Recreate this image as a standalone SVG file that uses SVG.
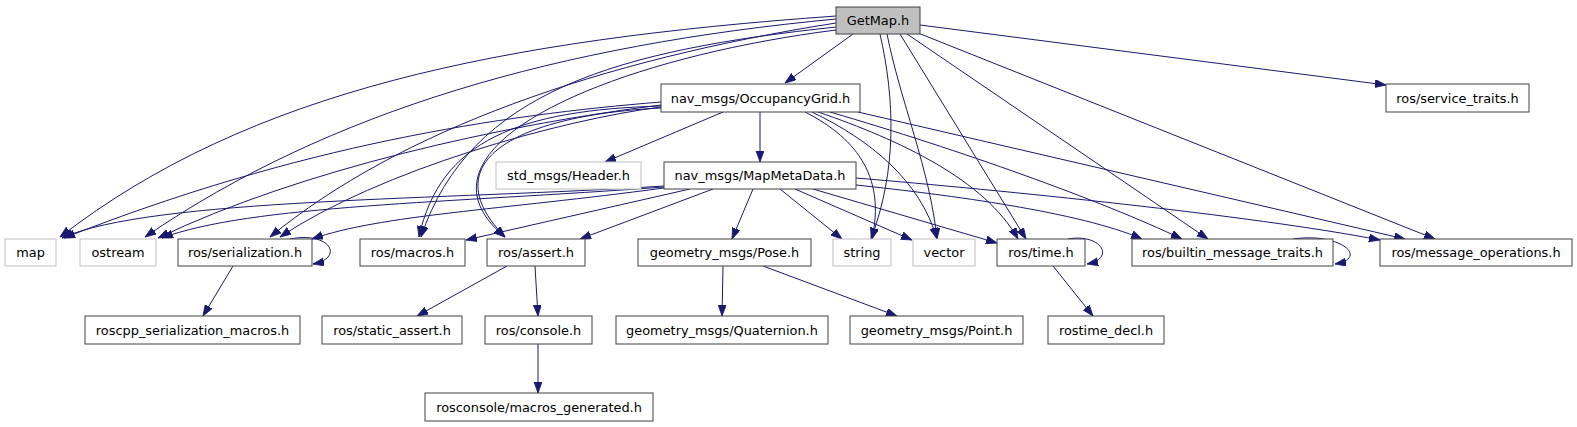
<svg xmlns="http://www.w3.org/2000/svg" width="1577" height="427" viewBox="0 0 1577 427">
<style>
.n rect{fill:#ffffff;stroke:#404040;stroke-width:1}
.n.m rect{stroke:#bfbfbf}
.n.r rect{fill:#bfbfbf}
.n text{font-family:"DejaVu Sans","Liberation Sans",sans-serif;font-size:12.9px;text-anchor:middle;fill:#000}
#edges path{fill:none;stroke:#191970;stroke-width:1;marker-end:url(#a)}
</style>
<defs>
<marker id="a" markerWidth="12" markerHeight="9" refX="11" refY="4" orient="auto" markerUnits="userSpaceOnUse"><path d="M0,0 L11,4 L0,8 z" fill="#191970" stroke="#191970" stroke-width="0.8"/></marker>
</defs>
<rect width="1577" height="427" fill="#ffffff"/>
<g id="edges">
<!-- GetMap -->
<path d="M853,34 L785,83"/>
<path d="M920,25 L1386,85"/>
<path d="M918,33 L1435,239"/>
<path d="M907,34 L1208,239"/>
<path d="M900,34 L1026,239"/>
<path d="M887,34 C900,100 930,170 937,239"/>
<path d="M880,34 C895,100 897,170 871,239"/>
<path d="M836,16 C500,40 250,90 60,237"/>
<path d="M836,19 C560,45 330,110 145,237"/>
<path d="M836,23 C600,60 400,130 270,237"/>
<path d="M836,27 C620,50 470,90 421,237"/>
<path d="M836,30 C600,60 400,150 505,237"/>
<!-- OccupancyGrid -->
<path d="M723,112 L605,162"/>
<path d="M760,112 L760,162"/>
<path d="M661,102 C500,115 300,145 64,238"/>
<path d="M661,105 C500,125 300,170 158,238"/>
<path d="M661,107 C560,120 380,170 280,237"/>
<path d="M661,106 C520,110 440,140 419,237"/>
<path d="M661,108 C520,115 430,160 505,237"/>
<path d="M805,112 C860,140 885,180 872,239"/>
<path d="M812,112 C870,140 920,180 937,239"/>
<path d="M818,112 C900,140 985,180 1018,239"/>
<path d="M830,112 C960,150 1100,200 1182,239"/>
<path d="M858,112 L1405,239"/>
<!-- MapMetaData -->
<path d="M664,186 C450,200 150,198 62,238"/>
<path d="M664,187 C450,203 250,205 162,238"/>
<path d="M664,188 C500,210 380,215 312,239"/>
<path d="M690,189 L466,240"/>
<path d="M713,189 L580,239"/>
<path d="M753,189 L732,239"/>
<path d="M780,189 L842,239"/>
<path d="M795,189 L912,240"/>
<path d="M813,189 L997,243"/>
<path d="M856,185 C950,195 1080,212 1142,239"/>
<path d="M856,178 C1000,190 1250,215 1380,240"/>
<!-- others -->
<path d="M290,239 C330,231 345,258 313,264"/>
<path d="M233,266 L203,316"/>
<path d="M507,266 L417,316"/>
<path d="M535,266 L538,316"/>
<path d="M538,344 L538,393"/>
<path d="M723,266 L722,316"/>
<path d="M763,266 L897,316"/>
<path d="M1068,239 C1100,233 1117,258 1087,264"/>
<path d="M1053,266 L1093,316"/>
<path d="M1293,239 C1340,232 1370,258 1335,264"/>
</g>
<g id="n_getmap" class="n r"><rect x="836" y="7" width="84" height="27"/><text x="878" y="25">GetMap.h</text></g>
<g id="n_occgrid" class="n"><rect x="661" y="84" width="199" height="28"/><text x="760.5" y="102.5">nav_msgs/OccupancyGrid.h</text></g>
<g id="n_service_traits" class="n"><rect x="1386" y="84" width="143" height="28"/><text x="1457.5" y="102.5">ros/service_traits.h</text></g>
<g id="n_header" class="n m"><rect x="496" y="162" width="145" height="27"/><text x="568.5" y="180">std_msgs/Header.h</text></g>
<g id="n_mapmeta" class="n"><rect x="664" y="162" width="192" height="27"/><text x="760" y="180">nav_msgs/MapMetaData.h</text></g>
<g id="n_map" class="n m"><rect x="5" y="239" width="51" height="27"/><text x="30.5" y="257">map</text></g>
<g id="n_ostream" class="n m"><rect x="80" y="239" width="76" height="27"/><text x="118" y="257">ostream</text></g>
<g id="n_serialization" class="n"><rect x="178" y="239" width="134" height="27"/><text x="245" y="257">ros/serialization.h</text></g>
<g id="n_macros" class="n"><rect x="360" y="239" width="105" height="27"/><text x="412.5" y="257">ros/macros.h</text></g>
<g id="n_assert" class="n"><rect x="487" y="239" width="98" height="27"/><text x="536" y="257">ros/assert.h</text></g>
<g id="n_pose" class="n"><rect x="638" y="239" width="173" height="27"/><text x="724.5" y="257">geometry_msgs/Pose.h</text></g>
<g id="n_string" class="n m"><rect x="833" y="239" width="58" height="27"/><text x="862" y="257">string</text></g>
<g id="n_vector" class="n m"><rect x="913" y="239" width="62" height="27"/><text x="944" y="257">vector</text></g>
<g id="n_time" class="n"><rect x="997" y="239" width="88" height="27"/><text x="1041" y="257">ros/time.h</text></g>
<g id="n_builtin" class="n"><rect x="1132" y="239" width="201" height="27"/><text x="1232.5" y="257">ros/builtin_message_traits.h</text></g>
<g id="n_msgops" class="n"><rect x="1380" y="239" width="192" height="27"/><text x="1476" y="257">ros/message_operations.h</text></g>
<g id="n_rcsm" class="n"><rect x="85" y="316" width="215" height="28"/><text x="192.5" y="334.5">roscpp_serialization_macros.h</text></g>
<g id="n_static_assert" class="n"><rect x="322" y="316" width="140" height="28"/><text x="392" y="334.5">ros/static_assert.h</text></g>
<g id="n_console" class="n"><rect x="485" y="316" width="107" height="28"/><text x="538.5" y="334.5">ros/console.h</text></g>
<g id="n_quat" class="n"><rect x="616" y="316" width="212" height="28"/><text x="722" y="334.5">geometry_msgs/Quaternion.h</text></g>
<g id="n_point" class="n"><rect x="850" y="316" width="173" height="28"/><text x="936.5" y="334.5">geometry_msgs/Point.h</text></g>
<g id="n_rostime_decl" class="n"><rect x="1048" y="316" width="116" height="28"/><text x="1106" y="334.5">rostime_decl.h</text></g>
<g id="n_macros_gen" class="n"><rect x="425" y="393" width="228" height="28"/><text x="539" y="411.5">rosconsole/macros_generated.h</text></g>
</svg>
